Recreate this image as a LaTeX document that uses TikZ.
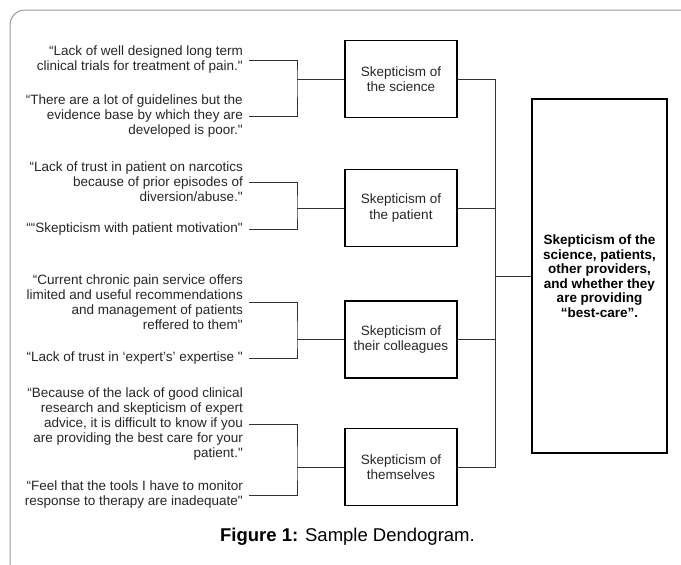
\documentclass[tikz,border=0pt]{standalone}
\usepackage{fontspec}
\setmainfont{Liberation Sans}[Ligatures=TeXOff]
\begin{document}
\begin{tikzpicture}[x=1pt,y=-1pt,
  quote/.style={anchor=east, align=right, inner sep=0pt, text=black!85,
    font=\fontsize{13.5}{15}\selectfont},
  catbox/.style={draw=black, line width=1.6pt, minimum width=112pt, minimum height=77pt,
    align=center, inner sep=0pt, text=black!85, font=\fontsize{13.5}{15.5}\selectfont},
  bigbox/.style={draw=black, line width=1.6pt, minimum width=135pt, minimum height=354pt,
    align=center, inner sep=0pt, font=\bfseries\fontsize{13.5}{14.5}\selectfont},
  link/.style={line width=0.9pt, draw=black!80},
  frame/.style={draw=black!40, line width=1pt, rounded corners=15pt}
]
\useasboundingbox (0,0) rectangle (681,565);
\draw[frame] (10,565) -- (10,10) -- (681,10);

% quotes
\node[quote] (q1) at (243,60) {“Lack of well designed long term\\clinical trials for treatment of pain."};
\node[quote] (q2) at (243,116) {“There are a lot of guidelines but the\\evidence base by which they are\\developed is poor."};
\node[quote] (q3) at (243,182) {“Lack of trust in patient on narcotics\\because of prior episodes of\\diversion/abuse."};
\node[quote] (q4) at (243,229) {““Skepticism with patient motivation"};
\node[quote] (q5) at (243,302) {“Current chronic pain service offers\\limited and useful recommendations\\and management of patients\\reffered to them"};
\node[quote] (q6) at (243,358) {“Lack of trust in ‘expert’s’ expertise "};
\node[quote] (q7) at (243,424) {“Because of the lack of good clinical\\research and skepticism of expert\\advice, it is difficult to know if you\\are providing the best care for your\\patient."};
\node[quote] (q8) at (243,495) {“Feel that the tools I have to monitor\\response to therapy are inadequate"};

% category boxes
\node[catbox] (b1) at (401,79) {Skepticism of\\the science};
\node[catbox] (b2) at (401,208) {Skepticism of\\the patient};
\node[catbox] (b3) at (401,339.5) {Skepticism of\\their colleagues};
\node[catbox] (b4) at (401,467) {Skepticism of\\themselves};

% summary box
\node[bigbox] (big) at (599.5,276) {Skepticism of the\\science, patients,\\other providers,\\and whether they\\are providing\\“best-care”.};

% junctions
\coordinate (j1) at (297,79);
\coordinate (j2) at (297,208);
\coordinate (j3) at (297,339.5);
\coordinate (j4) at (297,467);
\coordinate (k) at (495,276);

\draw[link] ([xshift=6pt]q1.east) -| (j1) |- ([xshift=6pt]q2.east);
\draw[link] ([xshift=6pt]q3.east) -| (j2) |- ([xshift=6pt]q4.east);
\draw[link] ([xshift=6pt]q5.east) -| (j3) |- ([xshift=6pt]q6.east);
\draw[link] ([xshift=6pt]q7.east) -| (j4) |- ([xshift=6pt]q8.east);
\draw[link] (j1) -- (b1.west);
\draw[link] (j2) -- (b2.west);
\draw[link] (j3) -- (b3.west);
\draw[link] (j4) -- (b4.west);

\draw[link] (b1.east) -| (k);
\draw[link] (b2.east) -| (k);
\draw[link] (b3.east) -| (k);
\draw[link] (b4.east) -| (k);
\draw[link] (k) -- (big.west);

% caption
\node[font=\fontsize{18.5}{22}\selectfont, inner sep=0pt] (cap) at (347.5,537) {\textbf{Figure 1:} Sample Dendogram.};
\end{tikzpicture}
\end{document}
